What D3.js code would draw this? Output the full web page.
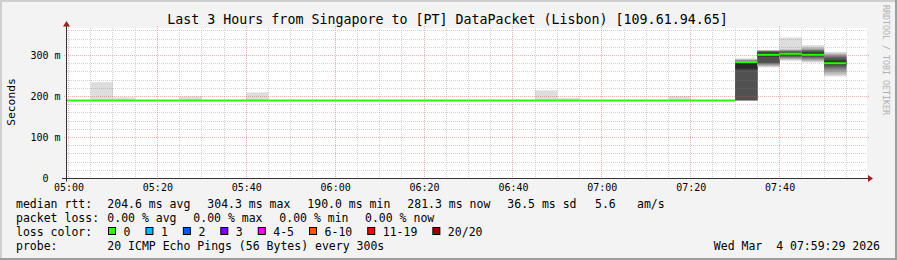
<!DOCTYPE html>
<html>
<head>
<meta charset="utf-8">
<script src="https://cdn.jsdelivr.net/npm/d3@7"></script>
<style>
  body { margin: 0; background: #f3f3f3; }
  svg text { font-family: "DejaVu Sans Mono", monospace; white-space: pre; }
</style>
</head>
<body>
<svg id="chart"></svg>
<script>
'use strict';

// one rrd step every 5 minutes, first step starts 04:55 (partly off the left edge)
const firstStep = '2026-03-04 04:55';
const stepMinutes = 5;

// median rtt per step (ms), null = no data yet
const medians = [
  190, 190, 190, 190, 190, 190, 190, 190, 190, 190,
  190, 190, 190, 190, 190, 190, 190, 190, 190, 190,
  190, 190, 190, 190, 190, 190, 190, 190, 190, 190,
  190, 284, 302, 304.3, 302, 281.3, null
];
// lowest / highest of the 20 pings per step (ms)
const rttMin = [
  189.5, 189.5, 189.5, 189.5, 189.5, 189.5, 189.5, 189.5, 189.5, 189.5,
  189.5, 189.5, 189.5, 189.5, 189.5, 189.5, 189.5, 189.5, 189.5, 189.5,
  189.5, 189.5, 189.5, 189.5, 189.5, 189.5, 189.5, 189.5, 189.5, 189.5,
  189.5, 190, 271, 287, 283, 249, null
];
const rttMax = [
  191, 191, 235, 198, 191, 191, 200, 191, 191, 210,
  191, 191, 191, 191, 191, 191, 191, 191, 191, 191,
  191, 191, 215, 196, 191, 191, 191, 191, 201, 191,
  191, 293, 313, 344, 325, 309, null
];
// all 20 sorted pings for the steps where the smoke is wide (07:30 .. 07:50)
const detailFirst = 31;
const detailPings = [
  [190, 190, 190, 190.5, 191, 191, 191, 191.5, 265, 268, 282, 284, 285, 286, 287, 288, 289, 290, 291, 293],
  [271, 273, 275, 276, 278, 280, 281, 282, 296, 299, 305, 308, 309, 310, 310.5, 311, 311.5, 312, 312.5, 313],
  [287, 289, 291, 292, 294, 296, 297, 298, 300, 302, 306, 307, 309, 310, 311, 312, 313, 314, 315, 344],
  [283, 285, 287, 289, 291, 293, 295, 297, 299, 300, 305, 308, 310, 312, 313, 314, 316, 318, 321, 325],
  [249, 252, 256, 260, 264, 268, 271, 274, 277, 279, 285, 289, 293, 296, 298, 300, 302, 304, 306, 309]
];

const yTicks = [0, 100, 200, 300];
const titleText = 'Last 3 Hours from Singapore to [PT] DataPacket (Lisbon) [109.61.94.65]';
const rttStats = ['204.6 ms avg', '304.3 ms max', '190.0 ms min', '281.3 ms now', '36.5 ms sd', '5.6', 'am/s'];
const lossStats = ['0.00 % avg', '0.00 % max', '0.00 % min', '0.00 % now'];
const lossLabels = ['0', '1', '2', '3', '4-5', '6-10', '11-19', '20/20'];
const lossColors = ['#26ff00', '#00b8ff', '#0059ff', '#7e00ff', '#ff00ff', '#ff5500', '#ff0000', '#a00000'];
const probeText = '20 ICMP Echo Pings (56 Bytes) every 300s';
const stampText = 'Wed Mar  4 07:59:29 2026';

const W = 897, H = 260;
const plot = { left: 67, right: 867, top: 28, bottom: 178.5 };
const crisp = v => Math.round(v - 0.5) + 0.5;

const svg = d3.select('#chart').attr('width', W).attr('height', H);

// background + 3d frame
svg.append('rect').attr('width', W).attr('height', H).attr('fill', '#f3f3f3');
svg.append('path').attr('d', `M1,${H} V1 H${W}`).attr('stroke', '#cfcfcf').attr('stroke-width', 2).attr('fill', 'none');
svg.append('path').attr('d', `M0,${H - 1} H${W - 1} V0`).attr('stroke', '#9e9e9e').attr('stroke-width', 2).attr('fill', 'none');

const parse = d3.timeParse('%Y-%m-%d %H:%M');
const t0 = parse(firstStep);
const slots = medians.map((m, i) => ({
  i: i,
  start: d3.timeMinute.offset(t0, i * stepMinutes),
  end: d3.timeMinute.offset(t0, (i + 1) * stepMinutes),
  med: m, lo: rttMin[i], hi: rttMax[i]
}));

const x = d3.scaleTime()
  .domain([new Date(2026, 2, 4, 4, 59, 40), new Date(2026, 2, 4, 7, 59, 40)])
  .range([plot.left, plot.right]);
const y = d3.scaleLinear().domain([0, 367]).range([plot.bottom, plot.top]);

// canvas
svg.append('rect')
  .attr('x', plot.left).attr('y', plot.top)
  .attr('width', plot.right - plot.left).attr('height', plot.bottom - plot.top)
  .attr('fill', '#ffffff');

svg.append('clipPath').attr('id', 'clip').append('rect')
  .attr('x', plot.left).attr('y', plot.top)
  .attr('width', plot.right - plot.left).attr('height', plot.bottom - plot.top);

const g = svg.append('g').attr('clip-path', 'url(#clip)');

// smoke: outer band min..max, then inner pairs get darker
const gray = k => { const c = 221 - (k - 1) * 20; return `rgb(${c},${c},${c})`; };
const smoke = g.append('g');
smoke.selectAll('rect.outer')
  .data(slots.filter(d => d.hi != null))
  .enter().append('rect')
  .attr('class', 'outer')
  .attr('x', d => x(d.start))
  .attr('width', d => x(d.end) - x(d.start))
  .attr('y', d => y(d.hi))
  .attr('height', d => y(d.lo) - y(d.hi))
  .attr('fill', gray(1));

const bands = [];
detailPings.forEach((p, j) => {
  const s = slots[detailFirst + j];
  for (let k = 2; k <= p.length / 2; k++) {
    bands.push({ start: s.start, end: s.end, lo: p[k - 1], hi: p[p.length - k], k: k });
  }
});
smoke.selectAll('rect.band')
  .data(bands)
  .enter().append('rect')
  .attr('class', 'band')
  .attr('x', d => x(d.start))
  .attr('width', d => x(d.end) - x(d.start))
  .attr('y', d => y(d.hi))
  .attr('height', d => Math.max(0, y(d.lo) - y(d.hi)))
  .attr('fill', d => gray(d.k));

// grid (translucent, drawn over the smoke like rrdtool does)
const grid = svg.append('g');
const minorX = x.ticks(d3.timeMinute.every(5)).filter(t => t.getMinutes() % 20 !== 0);
const majorX = x.ticks(d3.timeMinute.every(20));
const minorY = d3.range(20, 367, 20).filter(v => v % 100 !== 0);
const majorY = yTicks.filter(v => v > 0);
const gridMinor = 'rgba(128,128,128,0.35)', gridMajor = 'rgba(222,80,80,0.45)';

grid.selectAll('line.mx').data(minorX).enter().append('line')
  .attr('x1', d => crisp(x(d))).attr('x2', d => crisp(x(d)))
  .attr('y1', plot.top).attr('y2', plot.bottom)
  .attr('stroke', gridMinor).attr('stroke-dasharray', '1,1');
grid.selectAll('line.my').data(minorY).enter().append('line')
  .attr('y1', d => crisp(y(d))).attr('y2', d => crisp(y(d)))
  .attr('x1', plot.left).attr('x2', plot.right)
  .attr('stroke', gridMinor).attr('stroke-dasharray', '1,1');
grid.selectAll('line.Mx').data(majorX).enter().append('line')
  .attr('x1', d => crisp(x(d))).attr('x2', d => crisp(x(d)))
  .attr('y1', plot.top - 2).attr('y2', plot.bottom + 2)
  .attr('stroke', gridMajor).attr('stroke-dasharray', '1,1');
grid.selectAll('line.My').data(majorY).enter().append('line')
  .attr('y1', d => crisp(y(d))).attr('y2', d => crisp(y(d)))
  .attr('x1', plot.left - 3).attr('x2', plot.right + 2)
  .attr('stroke', gridMajor).attr('stroke-dasharray', '1,1');

// median line (green = 0 loss)
svg.append('g').attr('clip-path', 'url(#clip)')
  .selectAll('line.med')
  .data(slots.filter(d => d.med != null))
  .enter().append('line')
  .attr('x1', d => x(d.start)).attr('x2', d => x(d.end))
  .attr('y1', d => y(d.med)).attr('y2', d => y(d.med))
  .attr('stroke', lossColors[0]).attr('stroke-width', 2);

// axes
const xAxis = d3.axisBottom(x)
  .ticks(d3.timeMinute.every(20))
  .tickFormat(d3.timeFormat('%H:%M'))
  .tickSize(0).tickPadding(5.5);
const gx = svg.append('g').attr('transform', `translate(0,${plot.bottom})`).call(xAxis);
gx.select('.domain').remove();
gx.selectAll('text').attr('font-size', '10px').attr('font-family', '"DejaVu Sans Mono", monospace').attr('fill', '#000');

const yAxis = d3.axisLeft(y)
  .tickValues(yTicks)
  .tickFormat(v => v === 0 ? '0\u00a0\u00a0' : v + ' m')
  .tickSize(0).tickPadding(6);
const gy = svg.append('g').attr('transform', `translate(${plot.left - 0.5},0)`).call(yAxis);
gy.select('.domain').remove();
gy.selectAll('text').attr('font-size', '10px').attr('font-family', '"DejaVu Sans Mono", monospace').attr('fill', '#000');

// axis lines with arrows
svg.append('line').attr('x1', 62).attr('x2', plot.right + 3)
  .attr('y1', plot.bottom).attr('y2', plot.bottom).attr('stroke', '#333');
svg.append('line').attr('x1', plot.left - 0.5).attr('x2', plot.left - 0.5)
  .attr('y1', plot.bottom + 3).attr('y2', plot.top - 4).attr('stroke', '#333');
svg.append('path')
  .attr('d', `M${plot.right + 6},${plot.bottom} L${plot.right + 1},${plot.bottom - 3.5} L${plot.right + 1},${plot.bottom + 3.5}Z`)
  .attr('fill', '#962424');
svg.append('path')
  .attr('d', `M${plot.left - 0.5},${plot.top - 7} L${plot.left - 4},${plot.top - 1.5} L${plot.left + 3},${plot.top - 1.5}Z`)
  .attr('fill', '#962424');

// titles
svg.append('text').attr('x', 447.5).attr('y', 24)
  .attr('text-anchor', 'middle').attr('font-size', '13.3px').text(titleText);
svg.append('text').attr('transform', 'translate(14.5,102) rotate(-90)')
  .attr('text-anchor', 'middle').attr('font-size', '11.3px').text('Seconds');
svg.append('text').attr('transform', 'translate(883,5) rotate(90)')
  .attr('font-size', '8.3px').attr('fill', '#b0b0b0').text('RRDTOOL / TOBI OETIKER');

// legend
const lg = svg.append('g').attr('font-size', '11.5px').attr('fill', '#000');
const rows = [207.5, 221.5, 235.5, 249.5];
const rttX = [107.3, 207.3, 307.3, 407.3, 507.3, 595, 637];
const lossX = [107.3, 193.3, 279.3, 365];

lg.append('text').attr('x', 16).attr('y', rows[0]).text('median rtt:');
lg.selectAll('text.rtt').data(rttStats).enter().append('text')
  .attr('x', (d, i) => rttX[i]).attr('y', rows[0]).text(d => d);

lg.append('text').attr('x', 16).attr('y', rows[1]).text('packet loss:');
lg.selectAll('text.loss').data(lossStats).enter().append('text')
  .attr('x', (d, i) => lossX[i]).attr('y', rows[1]).text(d => d);

lg.append('text').attr('x', 16).attr('y', rows[2]).text('loss color:');
let cx = 108.5;
lossLabels.forEach((lab, i) => {
  lg.append('rect').attr('x', cx).attr('y', rows[2] - 8).attr('width', 7).attr('height', 7)
    .attr('fill', lossColors[i]).attr('stroke', '#000').attr('stroke-width', 1);
  const t = lg.append('text').attr('x', cx + 15).attr('y', rows[2]).text(lab);
  cx += 15 + t.node().getComputedTextLength() + 15.5;
});

lg.append('text').attr('x', 16).attr('y', rows[3]).text('probe:');
lg.append('text').attr('x', 107.3).attr('y', rows[3]).text(probeText);
lg.append('text').attr('x', 880).attr('y', rows[3]).attr('text-anchor', 'end').text(stampText);
</script>
</body>
</html>
